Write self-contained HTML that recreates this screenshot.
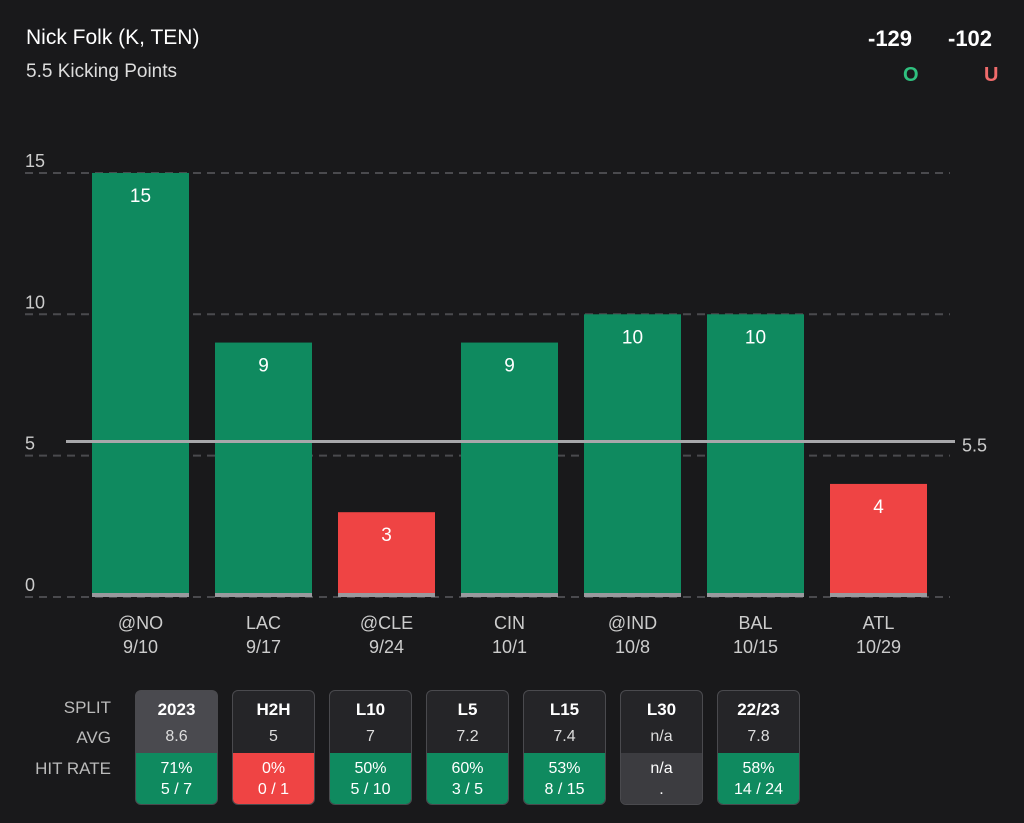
<!DOCTYPE html>
<html><head><meta charset="utf-8"><style>
body{margin:0;width:1024px;height:823px;background:#19191b;font-family:"Liberation Sans",sans-serif;color:#fff;overflow:hidden;position:relative}
.t{position:absolute}
.box{position:absolute;top:690px;width:83px;height:115px;border:1.5px solid #4a4a4e;border-radius:6px;box-sizing:border-box;overflow:hidden;background:#252528;text-align:center}
.box .h{height:35px;line-height:37px;font-weight:bold;font-size:17px}
.box .a{height:27px;line-height:22px;font-size:16px;color:#ddd}
.box .r{height:53px;font-size:16px;line-height:21px;padding-top:5px;box-sizing:border-box}
.lab{position:absolute;right:913px;font-size:17px;color:#bbb}
</style></head><body>
<div class="t" style="left:26px;top:26px;font-size:21px">Nick Folk (K, TEN)</div>
<div class="t" style="left:26px;top:61px;font-size:19px;color:#ddd">5.5 Kicking Points</div>
<div class="t" style="left:868px;top:26px;font-size:22px;font-weight:bold">-129</div>
<div class="t" style="left:948px;top:26px;font-size:22px;font-weight:bold">-102</div>
<div class="t" style="left:903px;top:64px;font-size:20px;font-weight:bold;color:#2fc07f">O</div>
<div class="t" style="left:984px;top:64px;font-size:20px;font-weight:bold;color:#ef6b6b">U</div>
<svg id="chart" width="1024" height="680" style="position:absolute;left:0;top:0"></svg>
<div class="lab" style="top:698px">SPLIT</div>
<div class="lab" style="top:728px">AVG</div>
<div class="lab" style="top:759px">HIT RATE</div>
<div id="table"></div>
<script>
const categories=["@NO","LAC","@CLE","CIN","@IND","BAL","ATL"];
const dates=["9/10","9/17","9/24","10/1","10/8","10/15","10/29"];
const values=[15,9,3,9,10,10,4];
const line=5.5;
const yTicks=[0,5,10,15];
const svg=document.getElementById('chart');
const NS='http://www.w3.org/2000/svg';
const y0=597,k=28.27;
const y=v=>y0-v*k;
const x=i=>92+i*123;
function mk(t,a){const e=document.createElementNS(NS,t);for(const n in a)e.setAttribute(n,a[n]);svg.appendChild(e);return e;}
yTicks.forEach(t=>{
 const g=mk('line',{x1:25,x2:950,y1:y(t),y2:y(t),stroke:'#4a4a4e','stroke-width':2,'stroke-dasharray':'8 6'});
 
 
 const l=mk('text',{x:25,y:y(t)-6,fill:'#ccc','font-size':18});l.textContent=t;
 
 
});
values.forEach((v,i)=>{
 const over=v>line;
 const r=mk('rect',{x:x(i),y:y(v),width:97,height:y0-y(v),fill:over?'#0f8a5f':'#ef4444'});
 
 
 mk('rect',{x:x(i),y:y0-4,width:97,height:4,fill:'#9a9a9e'});
 const t=mk('text',{x:x(i)+48.5,y:y(v)+29,fill:'#fff','font-size':19,'text-anchor':'middle'});t.textContent=v;
 
 
 const c=mk('text',{x:x(i)+48.5,y:629,fill:'#ccc','font-size':18,'text-anchor':'middle'});c.textContent=categories[i];
 
 
 const d=mk('text',{x:x(i)+48.5,y:653,fill:'#ccc','font-size':18,'text-anchor':'middle'});d.textContent=dates[i];
 
 
});
const pl=mk('line',{x1:66,x2:955,y1:y(line),y2:y(line),stroke:'#a8a8ab','stroke-width':3});


const pt=mk('text',{x:962,y:y(line)+10,fill:'#ccc','font-size':18});pt.textContent=line;



const splits=["2023","H2H","L10","L5","L15","L30","22/23"];
const avgs=["8.6","5","7","7.2","7.4","n/a","7.8"];
const rates=["71%","0%","50%","60%","53%","n/a","58%"];
const fracs=["5 / 7","0 / 1","5 / 10","3 / 5","8 / 15",".","14 / 24"];
const tb=document.getElementById('table');
splits.forEach((s,i)=>{
 const b=document.createElement('div');b.className='box';b.style.left=(135+i*97)+'px';
 
 
 if(i==0)b.style.background='#4a4a4f';
 const p=parseFloat(rates[i]);
 const col=isNaN(p)?'#3c3c40':(p>=50?'#0f8a5f':'#ef4444');
 b.innerHTML='<div class="h">'+s+'</div><div class="a">'+avgs[i]+'</div><div class="r" style="background:'+col+'">'+rates[i]+'<br>'+fracs[i]+'</div>';
 tb.appendChild(b);
});
</script>
</body></html>
